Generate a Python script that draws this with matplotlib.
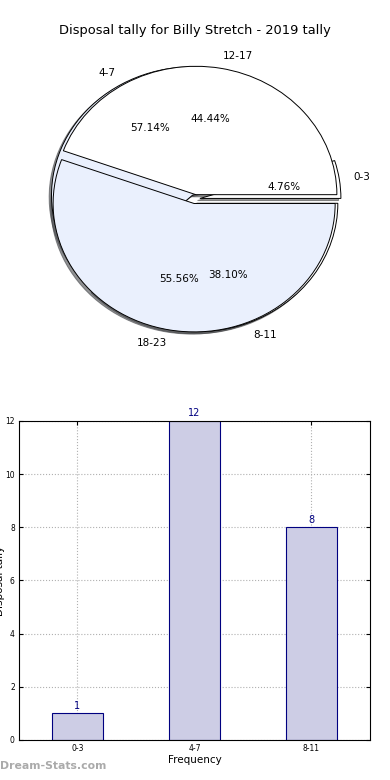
import numpy as np
import matplotlib
matplotlib.use('Agg')
import matplotlib.pyplot as plt

# data
bins_a = ['0-3', '4-7', '8-11']
tally_a = [1, 12, 8]
bins_b = ['12-17', '18-23']
tally_b = [4, 5]
title = 'Disposal tally for Billy Stretch - 2019 tally'

pie_colors = ['white', '#eaf0fd']
bar_face = '#cdcde5'
bar_edge = '#000080'

fig = plt.figure(figsize=(3.9, 7.8), dpi=100)

#----------------------------pie----------------------------------------------#
ax1 = fig.add_axes([0.048, 0.539, 0.904, 0.4115])
wprops = dict(edgecolor='black', linewidth=0.7)
shad = dict(ox=-0.012, oy=-0.012, alpha=0.6)
ax1.pie(tally_a, labels=bins_a, colors=pie_colors, autopct='%.2f%%',
        explode=[0.035]*len(tally_a), shadow=shad, wedgeprops=wprops,
        textprops=dict(fontsize=7.5))
ax1.pie(tally_b, labels=bins_b, colors=pie_colors, autopct='%.2f%%',
        explode=[0.035]*len(tally_b), shadow=shad, wedgeprops=wprops,
        textprops=dict(fontsize=7.5))
ax1.set_aspect('auto')
ax1.set_xlim(-1.25, 1.25)
ax1.set_ylim(-1.25, 1.25)
ax1.set_title(title, fontsize=9.4, pad=3)

#----------------------------bar----------------------------------------------#
ax2 = fig.add_axes([0.0487, 0.0513, 0.9, 0.409])
x = np.arange(len(bins_a))
ax2.bar(x, tally_a, width=0.44, color=bar_face, edgecolor=bar_edge, linewidth=0.8, zorder=2)
for xi, v in zip(x, tally_a):
    ax2.text(xi, v + 0.1, str(v), ha='center', va='bottom', color=bar_edge, fontsize=7)
ax2.set_xlim(-0.5, 2.5)
ax2.set_ylim(0, 12)
ax2.set_xticks(x)
ax2.set_xticklabels(bins_a)
ax2.set_yticks([0, 2, 4, 6, 8, 10, 12])
ax2.tick_params(labelsize=5.5, direction='in', length=3, top=True, right=True, pad=3)
ax2.grid(True, linestyle=':', color='#b0b0b0', linewidth=0.8, zorder=0)
ax2.set_axisbelow(True)
ax2.set_xlabel('Frequency', fontsize=7.5, labelpad=1)
fig.text(0.001, 0.255, 'Disposal tally', rotation=90, ha='center', va='center', fontsize=7.5)

fig.text(0.0, 0.012, 'Dream-Stats.com', color='#aaaaaa', fontsize=7.8, fontweight='bold',
         ha='left', va='bottom')

fig.savefig('out.png', dpi=100)
